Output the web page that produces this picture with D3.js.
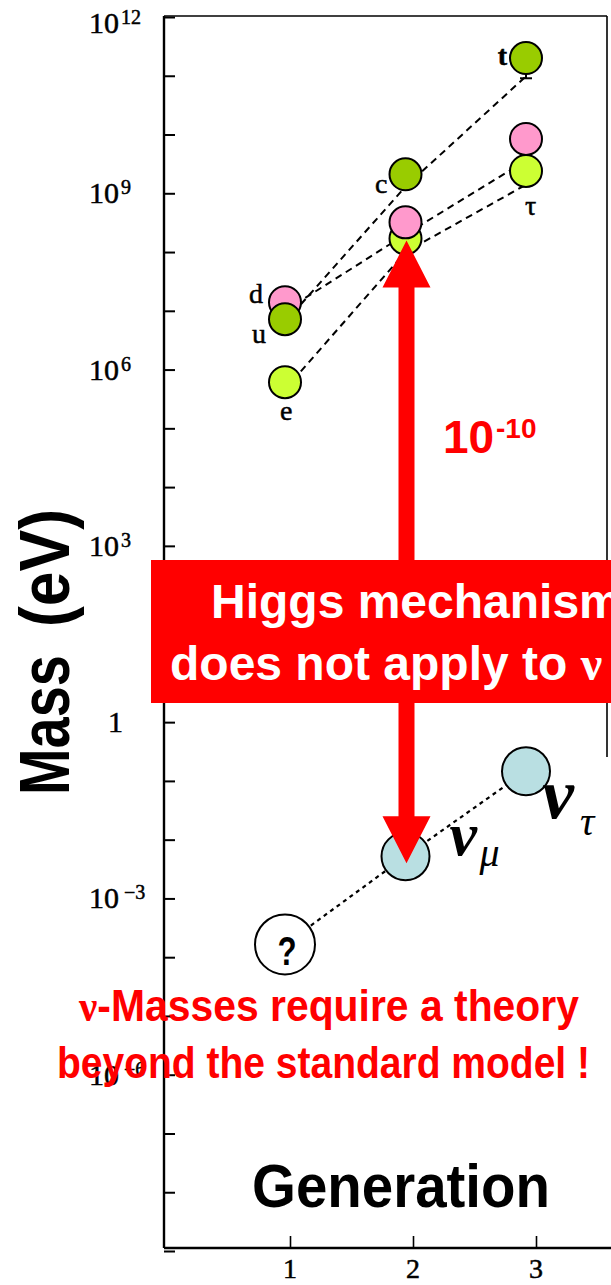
<!DOCTYPE html>
<html>
<head>
<meta charset="utf-8">
<script src="https://cdn.jsdelivr.net/npm/d3@7"></script>
<style>
  html, body { margin: 0; padding: 0; background: #fff; overflow: hidden; }
  svg { display: block; }
</style>
</head>
<body>
<svg id="chart" width="611" height="1285"></svg>
<script>
// ---- data -------------------------------------------------------------
const generations = [1, 2, 3];

// highlighted fermion masses (eV), one value per generation
const upQuarkMass      = [7.2e6, 2.1e9, 2.0e11];   // u, c, t
const downQuarkMass    = [1.4e7, 3.2e8, 8.4e9];    // d, s, b
const leptonMass       = [6.1e5, 1.7e8, 2.4e9];    // e, mu, tau
const neutrinoMass     = [1.65e-4, 5.2e-3, 1.46e-1]; // ?, nu_mu, nu_tau

// points of the underlying plot joined by dashed lines (eV)
const upTrendMass      = [6.4e6, 1.3e9, 9.8e10];
const downTrendMass    = [1.0e7, 2.0e8, 3.6e9];
const leptonTrendMass  = [4.6e5, 1.0e8, 1.4e9];

const upLabels     = ["u", "c", "t"];
const downLabels   = ["d", "", ""];
const leptonLabels = ["e", "", "τ"];

const yTickValues  = [1e12, 1e9, 1e6, 1e3, 1, 1e-3, 1e-6];
const yMinorValues = d3.range(-9, 13).map(e => Math.pow(10, e));
const xTickLabels  = ["1", "2", "3"];

const colors = { up: "#99cc00", down: "#ff99cc", lepton: "#ccff33", nu: "#b9dfe2" };

// ---- scales ------------------------------------------------------------
const svg = d3.select("#chart");
const y  = d3.scaleLog().domain([1e-9, 1e12]).range([1251, 17]);
const xAxisScale = d3.scaleLinear().domain([1, 3]).range([290, 536]);  // frame ticks
const xm = d3.scaleLinear().domain([1, 3]).range([285, 526]);           // markers

const axisX = 164, axisBottom = 1248, frameTop = 16, frameRight = 607;
const serif = "'Liberation Serif', 'Times New Roman', serif";
const sans  = "'Liberation Sans', Arial, Helvetica, sans-serif";

// ---- frame & axes ------------------------------------------------------
const frame = svg.append("g").attr("stroke", "#000").attr("fill", "none");
frame.append("line").attr("x1", axisX).attr("y1", frameTop).attr("x2", frameRight).attr("y2", frameTop).attr("stroke-width", 1.6);
frame.append("line").attr("x1", frameRight).attr("y1", frameTop).attr("x2", frameRight).attr("y2", 757).attr("stroke-width", 1.6);
frame.append("line").attr("x1", axisX).attr("y1", frameTop).attr("x2", axisX).attr("y2", axisBottom).attr("stroke-width", 2.4);
frame.append("line").attr("x1", axisX).attr("y1", axisBottom).attr("x2", 611).attr("y2", axisBottom).attr("stroke-width", 2.4);

const yAxis = svg.append("g").attr("transform", `translate(${axisX},0)`)
  .call(d3.axisRight(y).tickValues(yMinorValues).tickSize(11).tickFormat(""));
yAxis.select(".domain").remove();
yAxis.selectAll(".tick line").attr("stroke", "#000").attr("stroke-width", 2);

const xAxis = svg.append("g").attr("transform", `translate(0,${axisBottom})`)
  .call(d3.axisTop(xAxisScale).tickValues(generations).tickSize(12).tickFormat(""));
xAxis.select(".domain").remove();
xAxis.selectAll(".tick line").attr("stroke", "#000").attr("stroke-width", 1.6);

// y tick labels: 10 with superscript exponent
const yl = svg.append("g").attr("font-family", serif).attr("fill", "#000")
  .attr("stroke", "#000").attr("stroke-width", 0.5);
yTickValues.forEach(v => {
  const e = Math.round(Math.log10(v));
  const base = y(v) + (e === 12 ? 16 : 10);
  if (e === 0) {
    yl.append("text").attr("x", 123).attr("y", base).attr("text-anchor", "end")
      .attr("font-size", 30).text("1");
  } else {
    yl.append("text").attr("x", 119).attr("y", base).attr("text-anchor", "end")
      .attr("font-size", 30).text("10");
    yl.append("text").attr("x", e < 0 ? 124 : 121).attr("y", base - 9)
      .attr("font-size", 20).text(e < 0 ? "−" + (-e) : String(e));
  }
});

// x tick labels
svg.append("g").attr("font-family", serif).attr("font-size", 28).attr("text-anchor", "middle")
  .attr("stroke", "#000").attr("stroke-width", 0.5)
  .selectAll("text").data(generations).join("text")
  .attr("x", d => xAxisScale(d)).attr("y", 1278).text((d, i) => xTickLabels[i]);

// ---- dashed trend lines --------------------------------------------------
const line = d3.line().x((d, i) => xm(generations[i])).y(d => y(d));
const trends = svg.append("g").attr("fill", "none").attr("stroke", "#000");
[upTrendMass, downTrendMass, leptonTrendMass].forEach(s => {
  trends.append("path").attr("d", line(s)).attr("stroke-width", 2).attr("stroke-dasharray", "7,5");
});
trends.append("path").attr("d", line(neutrinoMass)).attr("stroke-width", 2.2).attr("stroke-dasharray", "4,4");

// small error bar under the top-quark point
const tx = xm(3), ty = y(upTrendMass[2]);
trends.append("line").attr("x1", tx).attr("x2", tx).attr("y1", ty - 6).attr("y2", ty + 2).attr("stroke-width", 2);
trends.append("line").attr("x1", tx - 6).attr("x2", tx + 6).attr("y1", ty + 2).attr("y2", ty + 2).attr("stroke-width", 2);

// letters from the underlying plot
const letters = svg.append("g").attr("font-family", serif).attr("font-size", 28).attr("fill", "#000")
  .attr("stroke", "#000").attr("stroke-width", 0.5);
letters.append("text").attr("x", xm(1) - 22).attr("y", y(downQuarkMass[0]) + 1).attr("text-anchor", "end").text(downLabels[0]);
letters.append("text").attr("x", xm(1) - 19).attr("y", y(upQuarkMass[0]) + 24).attr("text-anchor", "end").text(upLabels[0]);
letters.append("text").attr("x", xm(1) - 5).attr("y", y(leptonMass[0]) + 38).text(leptonLabels[0]);
letters.append("text").attr("x", xm(2) - 18).attr("y", y(upQuarkMass[1]) + 19).attr("text-anchor", "end").text(upLabels[1]);
letters.append("text").attr("x", xm(3) - 19).attr("y", y(upQuarkMass[2]) + 7).attr("text-anchor", "end").attr("font-weight", "bold").text(upLabels[2]);
letters.append("text").attr("x", xm(3) - 1).attr("y", y(leptonMass[2]) + 44).text(leptonLabels[2]);

// ---- highlighted masses ------------------------------------------------
const disks = svg.append("g").attr("stroke", "#000").attr("stroke-width", 2);
function disk(gen, mass, fill, r) {
  disks.append("circle").attr("cx", xm(gen)).attr("cy", y(mass)).attr("r", r).attr("fill", fill);
}
// drawing order follows the overlaps in each generation
disk(1, downQuarkMass[0], colors.down, 16);
disk(1, upQuarkMass[0], colors.up, 16);
disk(1, leptonMass[0], colors.lepton, 16);
disk(2, leptonMass[1], colors.lepton, 16);
disk(2, downQuarkMass[1], colors.down, 16);
disk(2, upQuarkMass[1], colors.up, 16);
disk(3, downQuarkMass[2], colors.down, 16);
disk(3, leptonMass[2], colors.lepton, 16);
disk(3, upQuarkMass[2], colors.up, 16);
disk(1, neutrinoMass[0], "#fff", 30);
disk(2, neutrinoMass[1], colors.nu, 24);
disk(3, neutrinoMass[2], colors.nu, 24);

// ---- double arrow between mu and nu_mu -----------------------------------
const ax = xm(2) + 1;
const yTop = y(leptonMass[1]) + 2;
const yBot = y(neutrinoMass[1]) + 7;
const hw = 8, hh = 24, hl = 47;
const arrowPath = [
  [ax, yTop], [ax + hh, yTop + hl], [ax + hw, yTop + hl], [ax + hw, yBot - hl], [ax + hh, yBot - hl],
  [ax, yBot], [ax - hh, yBot - hl], [ax - hw, yBot - hl], [ax - hw, yTop + hl], [ax - hh, yTop + hl]
];
svg.append("path").attr("d", "M" + arrowPath.map(p => p.join(",")).join("L") + "Z").attr("fill", "#ff0000");

// ratio label
const ratio = svg.append("g").attr("font-family", sans).attr("font-weight", "bold").attr("fill", "#ff0000");
ratio.append("text").attr("x", 443).attr("y", 453).attr("font-size", 46).text("10");
ratio.append("text").attr("x", 496).attr("y", 438).attr("font-size", 28).text("-10");

// ---- Higgs banner ------------------------------------------------------
svg.append("rect").attr("x", 151).attr("y", 560).attr("width", 480).attr("height", 143).attr("fill", "#ff0000");
const banner = svg.append("g").attr("font-family", sans).attr("font-weight", "bold").attr("font-size", 48).attr("fill", "#fff");
banner.append("text").attr("x", 211).attr("y", 618).text("Higgs mechanism");
const b2 = banner.append("text").attr("x", 170).attr("y", 680);
b2.append("tspan").text("does not apply to ");
b2.append("tspan").attr("font-family", serif).text("ν");

// ---- neutrino labels ---------------------------------------------------
const nuLab = svg.append("g").attr("font-family", serif).attr("font-style", "italic").attr("fill", "#000");
nuLab.append("text").attr("x", xm(2) + 44).attr("y", y(neutrinoMass[1]) - 1).attr("font-size", 62).attr("font-weight", "bold").text("ν");
nuLab.append("text").attr("x", xm(2) + 74).attr("y", y(neutrinoMass[1]) + 10).attr("font-size", 40).text("μ");
nuLab.append("text").attr("x", xm(3) + 16).attr("y", y(neutrinoMass[2]) + 47).attr("font-size", 72).attr("font-weight", "bold").text("ν");
nuLab.append("text").attr("x", xm(3) + 54).attr("y", y(neutrinoMass[2]) + 64).attr("font-size", 40).text("τ");

svg.append("text").attr("x", xm(1) + 2).attr("y", y(neutrinoMass[0]) + 21).attr("text-anchor", "middle")
  .attr("font-family", sans).attr("font-weight", "bold").attr("font-size", 40).attr("fill", "#000")
  .attr("transform", `translate(${(xm(1) + 2) * 0.22},0) scale(0.78,1)`).text("?");

// ---- bottom message ----------------------------------------------------
const msg = svg.append("g").attr("font-family", sans).attr("font-weight", "bold").attr("font-size", 44).attr("fill", "#ff0000");
const m1 = msg.append("text").attr("x", 79).attr("y", 1021).attr("textLength", 500).attr("lengthAdjust", "spacingAndGlyphs");
m1.append("tspan").attr("font-family", serif).text("ν");
m1.append("tspan").text("-Masses require a theory");
msg.append("text").attr("x", 57).attr("y", 1078).attr("textLength", 533).attr("lengthAdjust", "spacingAndGlyphs")
  .text("beyond the standard model !");

// ---- axis titles -------------------------------------------------------
const titles = svg.append("g").attr("font-family", sans).attr("font-weight", "bold").attr("fill", "#000");
titles.append("text").attr("x", 252).attr("y", 1207).attr("font-size", 62)
  .attr("textLength", 298).attr("lengthAdjust", "spacingAndGlyphs").text("Generation");
titles.append("text").attr("transform", "translate(69,795) rotate(-90)").attr("font-size", 71)
  .attr("textLength", 140).attr("lengthAdjust", "spacingAndGlyphs").text("Mass");
titles.append("text").attr("transform", "translate(69,627) rotate(-90)").attr("font-size", 71)
  .attr("textLength", 118).attr("lengthAdjust", "spacingAndGlyphs").text("(eV)");
</script>
</body>
</html>
